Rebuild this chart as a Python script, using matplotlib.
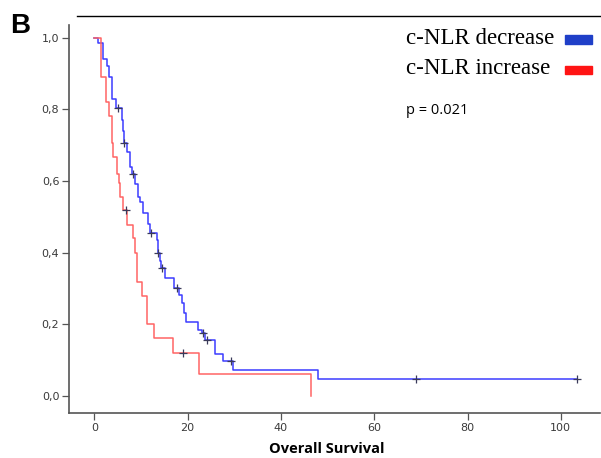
import numpy as np
import matplotlib
matplotlib.use("Agg")
import matplotlib.pyplot as plt
from matplotlib.lines import Line2D
from matplotlib.patches import Rectangle

# ---- data ----
dec_times = [0, 0.9, 1.9, 2.7, 3.2, 3.7, 4.7, 5.9, 6.2, 6.3, 7.0, 7.7, 8.0, 8.7, 9.4, 9.9,
             10.5, 11.6, 11.9, 13.4, 13.6, 14.0, 14.3, 15.2, 17.0, 18.2, 18.7, 19.3, 19.7,
             22.3, 23.0, 23.8, 25.9, 27.5, 29.7, 48.0, 103.4]
dec_surv = [1.0, 0.985, 0.94, 0.92, 0.89, 0.83, 0.805, 0.77, 0.74, 0.707, 0.68, 0.64, 0.618,
            0.59, 0.556, 0.54, 0.51, 0.48, 0.454, 0.435, 0.398, 0.377, 0.356, 0.328, 0.30,
            0.28, 0.258, 0.23, 0.207, 0.183, 0.174, 0.156, 0.116, 0.097, 0.072, 0.047, 0.047]
dec_censored = [5.0, 6.4, 8.2, 12.1, 13.7, 14.5, 17.7, 23.4, 24.1, 29.3, 69.0, 103.4]

inc_times = [0, 1.5, 2.6, 3.2, 3.7, 4.1, 4.8, 5.4, 5.5, 6.2, 7.1, 8.4, 8.7, 9.1, 10.2,
             11.2, 12.9, 16.8, 22.4, 46.5]
inc_surv = [1.0, 0.89, 0.82, 0.78, 0.705, 0.667, 0.62, 0.593, 0.556, 0.52, 0.477, 0.44,
            0.40, 0.318, 0.278, 0.20, 0.16, 0.118, 0.06, 0.0]
inc_censored = [6.9, 19.1]

labels = ["c-NLR decrease", "c-NLR increase"]
p_text = "p = 0.021"
xticks = [0, 20, 40, 60, 80, 100]
yticks = [0.0, 0.2, 0.4, 0.6, 0.8, 1.0]
ytick_labels = ["0,0", "0,2", "0,4", "0,6", "0,8", "1,0"]
xlabel = "Overall Survival"

line_blue = "#3c3cff"
line_red = "#ff6464"
patch_blue = "#1f3fc8"
patch_red = "#ff1414"

fig = plt.figure(figsize=(6.01, 4.58), dpi=100)
ax = fig.add_axes([69 / 601, 1 - 413 / 458, (600 - 69) / 601, (413 - 25) / 458])


def surv_at(times, surv, t):
    idx = np.searchsorted(times, t, side="right") - 1
    return np.asarray(surv)[idx]


for times, surv, cens, col in [(dec_times, dec_surv, dec_censored, line_blue),
                               (inc_times, inc_surv, inc_censored, line_red)]:
    ax.step(times, surv, where="post", color=col, lw=1.1, zorder=3)
    ax.plot(cens, surv_at(times, surv, cens), linestyle="none", marker="+",
            color="#3a3a5a", markersize=6, mew=0.9, zorder=4)

ax.set_xlim(-5.42, 108.4)
ax.set_ylim(-0.0483, 1.0355)
ax.set_xticks(xticks)
ax.set_yticks(yticks)
ax.set_yticklabels(ytick_labels)
ax.tick_params(axis="both", direction="out", length=5, width=0.9, color="#555555",
               labelsize=8, labelcolor="#3a3a3a", pad=2)
for s in ["top", "right"]:
    ax.spines[s].set_visible(False)
for s in ["left", "bottom"]:
    ax.spines[s].set_color("#555555")
    ax.spines[s].set_linewidth(1.2)

ax.set_xlabel(xlabel, fontsize=10.5, fontweight="bold", family="Open Sans")
ax.xaxis.set_label_coords((327 - 69) / 531, -(449 - 413) / 388, transform=ax.transAxes)
ax.xaxis.label.set_va("center")

# legend-like annotation
fig.text(406 / 601, 1 - 39 / 458, labels[0], family="Liberation Serif", fontsize=16.5,
         va="center", ha="left")
fig.text(406 / 601, 1 - 68 / 458, labels[1], family="Liberation Serif", fontsize=16.5,
         va="center", ha="left")
fig.patches.append(Rectangle((565 / 601, 1 - 43.5 / 458), 27 / 601, 8 / 458,
                             transform=fig.transFigure, color=patch_blue, figure=fig))
fig.patches.append(Rectangle((565 / 601, 1 - 73.5 / 458), 27 / 601, 8 / 458,
                             transform=fig.transFigure, color=patch_red, figure=fig))
fig.text(406 / 601, 1 - 110 / 458, p_text, family="Open Sans", fontsize=10.5,
         va="center", ha="left")

# panel letter and top rule
fig.text(10 / 601, 1 - 26 / 458, "B", fontsize=20, fontweight="bold", va="center", ha="left",
         family="Liberation Sans")
fig.lines.append(Line2D([77 / 601, 1.0], [1 - 16 / 458, 1 - 16 / 458],
                        transform=fig.transFigure, color="black", lw=1.0))

fig.savefig("out.png", dpi=100)
